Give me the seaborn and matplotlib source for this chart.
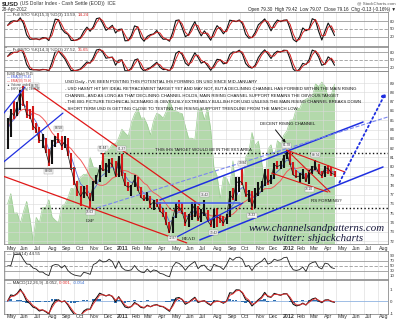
import numpy as np
import pandas as pd
import matplotlib
matplotlib.use("Agg")
import matplotlib.pyplot as plt
import matplotlib.dates as mdates
import seaborn as sns

# ---------------------------------------------------------------- data
weeks = pd.date_range("2010-05-07", "2012-04-27", freq="W-FRI")

usd_close = [84.0, 85.9, 85.5, 86.6, 88.2, 86.9, 85.6, 85.5, 84.4, 84.0, 82.8, 82.8, 81.6,
             80.4, 82.6, 83.0, 82.9, 82.2, 82.7, 81.3, 79.8, 78.4, 77.5, 76.8, 77.4, 77.0,
             76.3, 78.2, 78.7, 80.0, 79.6, 79.7, 80.5, 80.2, 79.0,
             81.0, 79.1, 78.0, 77.8, 77.9, 78.7, 77.6, 76.7, 76.4, 76.9, 75.9, 76.2, 76.0,
             75.2, 74.9, 73.9, 72.9, 74.5, 75.8, 75.6, 75.1, 73.9, 74.7, 75.3, 75.9, 74.3,
             75.0, 75.1, 74.2, 73.7, 74.9, 74.6, 74.4, 73.9, 74.6, 77.0, 76.6, 78.2, 78.5,
             78.2, 76.9, 77.1, 75.7, 76.8, 77.4, 78.0, 79.5, 78.3, 78.7, 80.2, 80.0, 80.2,
             81.1, 81.4, 80.3, 79.1, 78.9, 79.0, 79.3, 78.4, 79.5, 79.9, 80.1, 79.3, 79.0,
             79.9, 79.8, 79.3, 79.16]
usd_high = [85.2, 86.2, 87.1, 87.0, 88.3, 88.70, 87.1, 86.2, 86.5, 84.7, 84.3, 83.5, 83.1,
            81.9, 82.9, 83.3, 83.58, 83.3, 83.3, 83.1, 81.5, 80.0, 78.5, 77.9, 77.9, 78.0,
            77.2, 78.5, 79.1, 80.2, 81.44, 80.4, 80.8, 80.9, 80.6,
            81.2, 81.37, 79.3, 78.3, 78.0, 79.1, 78.9, 77.8, 77.0, 77.3, 76.9, 76.4, 76.5,
            76.2, 75.6, 75.1, 74.1, 74.6, 76.1, 76.4, 76.1, 75.1, 74.9, 76.2, 76.2, 75.8,
            75.4, 76.42, 75.3, 74.4, 75.5, 75.6, 74.8, 74.7, 74.9, 77.4, 77.7, 78.9, 78.9,
            79.84, 78.4, 77.5, 77.4, 77.7, 78.3, 78.5, 79.7, 79.7, 79.1, 80.4, 80.6, 80.6,
            81.3, 81.78, 81.6, 80.5, 79.6, 79.3, 79.7, 79.3, 79.6, 80.1, 80.74, 80.3, 79.5,
            80.1, 80.2, 80.0, 79.5]
usd_low = [81.9, 83.2, 85.1, 85.5, 86.1, 86.5, 85.2, 85.1, 84.0, 83.6, 82.6, 82.0, 81.5,
           80.08, 80.3, 82.1, 82.6, 81.8, 82.0, 81.1, 79.6, 78.0, 76.9, 75.8, 76.6, 76.9,
           75.63, 76.3, 78.1, 78.3, 79.5, 78.9, 79.3, 80.0, 78.9,
           78.9, 79.0, 77.9, 77.4, 76.9, 77.8, 77.4, 76.6, 76.3, 76.3, 75.6, 75.3, 75.7,
           75.1, 74.6, 73.7, 72.9, 72.87, 74.5, 75.2, 74.9, 73.6, 73.5, 74.3, 74.6, 74.2,
           74.1, 74.7, 74.0, 73.5, 73.42, 73.5, 73.9, 73.6, 73.8, 74.6, 76.4, 76.3, 77.3,
           78.0, 76.7, 76.2, 75.33, 75.6, 76.8, 77.3, 77.9, 78.0, 78.1, 78.7, 79.7, 79.8,
           79.9, 80.8, 80.2, 79.1, 78.8, 78.2, 78.7, 78.3, 78.10, 79.2, 79.6, 79.2, 78.8,
           78.9, 79.2, 79.0, 78.9]
spx_close = [1111, 1136, 1088, 1089, 1064, 1092, 1117, 1076, 1022, 1078, 1065, 1102, 1102,
             1121, 1079, 1071, 1065, 1105, 1110, 1126, 1149, 1147, 1166, 1176, 1183, 1183,
             1225, 1200, 1199, 1190, 1225, 1240, 1244, 1257, 1258,
             1272, 1293, 1284, 1276, 1310, 1330, 1343, 1320, 1321, 1304, 1279, 1314, 1332,
             1328, 1320, 1337, 1364, 1340, 1338, 1333, 1331, 1300, 1271, 1271, 1268, 1340,
             1344, 1316, 1345, 1292, 1199, 1179, 1124, 1177, 1174, 1154, 1216, 1136, 1131,
             1155, 1225, 1238, 1285, 1253, 1264, 1216, 1159, 1244, 1255, 1219, 1265, 1258,
             1278, 1289, 1315, 1316, 1345, 1343, 1361, 1366, 1370, 1371, 1404, 1397, 1408,
             1398, 1370, 1378, 1403]

month_starts = pd.date_range("2010-05-01", "2012-08-01", freq="MS")
x_start, x_end = pd.Timestamp("2010-04-29"), pd.Timestamp("2012-08-23")

# swing points that carry a value tag: (week, which side, tag shift in days)
swing_tags = [("2010-06-11", "high", 24), ("2010-08-06", "low", 0), ("2010-08-27", "high", 0),
              ("2010-11-05", "low", 0), ("2010-12-03", "high", 0), ("2011-01-14", "high", 0),
              ("2011-05-06", "low", 0), ("2011-07-15", "high", 0), ("2011-08-05", "low", 0),
              ("2011-10-07", "high", 0), ("2011-10-28", "low", 0), ("2012-01-13", "high", 0),
              ("2012-03-16", "high", 0), ("2012-03-02", "low", 0)]

# trendlines: (start date, start level, end date, end level, colour, style, width)
trendlines = [
    ("2010-04-20", 85.24, "2010-06-14", 88.57, "#1f2fe0", "-", 0.9),
    ("2010-04-20", 80.18, "2010-09-06", 85.77, "#1f2fe0", "-", 0.9),
    ("2010-04-20", 79.86, "2010-10-02", 79.86, "#555555", "-", 0.8),
    ("2010-06-25", 88.78, "2011-07-05", 75.88, "#e01818", "-", 0.9),
    ("2010-04-20", 79.11, "2011-06-06", 71.80, "#e01818", "-", 0.9),
    ("2010-11-26", 81.47, "2012-08-23", 81.47, "#111111", ":", 1.0),
    ("2010-07-17", 75.56, "2012-08-23", 75.56, "#111111", ":", 1.0),
    ("2011-04-08", 76.42, "2012-06-29", 84.81, "#1f2fe0", "-", 1.1),
    ("2011-07-05", 72.12, "2012-08-12", 79.97, "#1f2fe0", "-", 1.1),
    ("2010-11-20", 75.56, "2012-09-19", 85.77, "#7a86f0", "--", 0.8),
    ("2011-04-01", 76.10, "2011-10-01", 76.10, "#4a64f0", "-", 1.2),
    ("2011-05-15", 72.44, "2011-10-08", 76.10, "#1f2fe0", "-", 0.9),
    ("2012-01-13", 81.78, "2012-05-20", 79.43, "#e01818", "-", 0.8),
    ("2012-01-13", 81.78, "2012-04-17", 77.28, "#e01818", "-", 0.8),
    ("2011-12-10", 79.32, "2012-04-12", 77.28, "#e01818", "-", 0.8),
]
arrow_path = ("2012-05-05", 78.03, "2012-08-21", 88.25)

notes = [
    "USD Daily - I'VE BEEN POSTING THIS POTENTIAL IHS FORMING ON USD SINCE MID-JANUARY",
    "- USD HASN'T HIT MY IDEAL RETRACEMENT TARGET YET AND MAY NOT, BUT A DECLINING CHANNEL HAS FORMED WITHIN THE MAIN RISING",
    "CHANNEL, AND AS LONG AS THAT DECLINING CHANNEL HOLDS, MAIN RISING CHANNEL SUPPORT REMAINS THE OBVIOUS TARGET",
    "- THE BIG PICTURE TECHNICAL SCENARIO IS OBVIOUSLY EXTREMELY BULLISH FOR USD UNLESS THE MAIN RISING CHANNEL BREAKS DOWN",
    "- SHORT TERM USD IS GETTING CLOSE TO TESTING THE RISING SUPPORT TRENDLINE FROM THE MARCH LOW",
]

# ---------------------------------------------------------------- indicators
df = pd.DataFrame({"date": weeks, "close": usd_close, "high": usd_high,
                   "low": usd_low, "spx": spx_close})
df["ema20"] = df["close"].ewm(span=4, adjust=False).mean()
df["ma50"] = df["close"].rolling(10, min_periods=1).mean()


def stoch(d, look):
    lo = d["low"].rolling(look, min_periods=1).min()
    hi = d["high"].rolling(look, min_periods=1).max()
    k = 100 * (d["close"] - lo) / (hi - lo)
    k = k.rolling(2, min_periods=1).mean()
    return k, k.rolling(2, min_periods=1).mean()


df["k1"], df["d1"] = stoch(df, 3)
df["k2"], df["d2"] = stoch(df, 4)

delta = df["close"].diff()
gain = delta.clip(lower=0).ewm(alpha=1 / 4, adjust=False).mean()
loss = (-delta.clip(upper=0)).ewm(alpha=1 / 4, adjust=False).mean()
df["rsi"] = 100 - 100 / (1 + gain / loss.replace(0, np.nan))
df["rsi"] = df["rsi"].fillna(50)

ema_f = df["close"].ewm(span=2.4, adjust=False).mean()
ema_s = df["close"].ewm(span=5.2, adjust=False).mean()
df["macd"] = ema_f - ema_s
df["signal"] = df["macd"].ewm(span=1.8, adjust=False).mean()
df["hist"] = df["macd"] - df["signal"]

# ---------------------------------------------------------------- figure
sns.set_theme(style="white")
plt.rcParams["font.family"] = ["Liberation Sans", "DejaVu Sans"]
W, H = 400, 323
fig = plt.figure(figsize=(W / 100, H / 100), dpi=100)
fig.patch.set_facecolor("white")


def panel(top, bottom, left=4, right=388):
    return fig.add_axes([left / W, 1 - bottom / H, (right - left) / W, (bottom - top) / H])


GRID = "#d9d9d9"
FRAME = "#8c8c8c"
TICK_FS = 3.2


def style(ax, yticks, ylim):
    ax.set_xlim(x_start, x_end)
    ax.set_ylim(*ylim)
    for s in ax.spines.values():
        s.set_color(FRAME)
        s.set_linewidth(0.6)
    ax.set_xticks(month_starts)
    ax.xaxis.set_major_formatter(mdates.DateFormatter(""))
    ax.grid(False)
    ax.yaxis.tick_right()
    ax.set_yticks(yticks)
    ax.set_yticklabels([str(t) for t in yticks], fontsize=TICK_FS, color="#333333")
    ax.tick_params(axis="both", length=0, pad=1.5)
    ax.set_xlabel("")
    ax.set_ylabel("")


def month_grid(ax):
    for m in month_starts:
        ax.axvline(m, color=GRID, lw=0.4, zorder=0)


def month_labels(ax):
    for m in month_starts:
        bold = m.month == 1
        ax.text(m + pd.Timedelta(days=3), -0.012, str(m.year) if bold else m.strftime("%b"),
                transform=ax.get_xaxis_transform(), fontsize=3.8,
                fontweight="bold" if bold else "normal", ha="left", va="top", color="#333333")


# header
fig.text(2 / W, 1 - 1 / H, "$USD", fontsize=4.6, fontweight="bold", va="top", ha="left")
fig.text(20 / W, 1 - 1.5 / H, "(US Dollar Index - Cash Settle (EOD))  ICE", fontsize=3.6,
         va="top", ha="left", color="#333333")
fig.text(2 / W, 1 - 7 / H, "28-Apr-2012", fontsize=3.3, va="top", ha="left", color="#333333")
fig.text(396 / W, 1 - 1 / H, "@ StockCharts.com", fontsize=3.2, va="top", ha="right", color="#555555")
fig.text(396 / W, 1 - 7 / H,
         "Open 79.30  High 79.42  Low 79.07  Close 79.16  Chg -0.13 (-0.16%) \u25bc",
         fontsize=3.3, va="top", ha="right", color="#222222")

# stochastic panels
for (top, bot, kcol, dcol, lab, ylim) in [
        (12, 46, "k1", "d1", ("Full STO %K(15,3) %D(3) 13.59, ", "14.24"), (-14, 114)),
        (47, 71, "k2", "d2", ("Full STO %K(14,3) %D(3) 27.52, ", "35.65"), (5, 101))]:
    ax = panel(top, bot)
    month_grid(ax)
    for lvl, ls in [(80, "-"), (50, (0, (4, 2))), (20, "-")]:
        ax.axhline(lvl, color="#9a9a9a", lw=0.6, ls=ls, zorder=1)
    sns.lineplot(data=df, x="date", y=kcol, ax=ax, color="#111111", lw=0.8, zorder=3)
    sns.lineplot(data=df, x="date", y=dcol, ax=ax, color="#d42020", lw=0.7, zorder=4)
    t = ax.text(0.008, 0.97, "\u2014 " + lab[0], transform=ax.transAxes, fontsize=3.2,
                va="top", ha="left", color="#333333",
                bbox=dict(fc="white", ec="none", pad=0.3, alpha=0.7))
    ax.annotate(lab[1], xycoords=t, xy=(1, 0), va="bottom", ha="left", fontsize=3.2, color="#d42020")
    style(ax, [20, 50, 80], ylim)

# main price panel
ax = panel(71, 244)
ax2 = ax.twinx()
ax2.set_ylim(1013, 1435)
ax2.fill_between(df["date"], 1013, df["spx"], color="#b3d9ab", lw=0, zorder=0)
ax2.plot(df["date"], df["spx"], color="#9ccc93", lw=0.5)
ax2.set_yticks([])
ax2.set_zorder(0)
ax.set_zorder(1)
ax.patch.set_alpha(0)
for s in ax2.spines.values():
    s.set_visible(False)

month_grid(ax)
for lvl in range(72, 90):
    ax.axhline(lvl, color=GRID, lw=0.4, zorder=0)

sns.lineplot(data=df, x="date", y="ma50", ax=ax, color="#f05a5a", lw=0.7, zorder=3)
sns.lineplot(data=df, x="date", y="ema20", ax=ax, color="#5a6fd8", lw=0.6, zorder=3)
up = df["close"].diff().fillna(0) >= 0
ax.vlines(df["date"][up], df["low"][up], df["high"][up], color="#111111", lw=1.5, zorder=4)
ax.vlines(df["date"][~up], df["low"][~up], df["high"][~up], color="#d41a1a", lw=1.5, zorder=4)
sns.lineplot(data=df, x="date", y="close", ax=ax, color="#111111", lw=0.5, zorder=5)

for d0, p0, d1, p1, col, ls, lw in trendlines:
    ax.plot([pd.Timestamp(d0), pd.Timestamp(d1)], [p0, p1], color=col, ls=ls, lw=lw, zorder=6)
ax.annotate("", xy=(pd.Timestamp(arrow_path[2]), arrow_path[3]),
            xytext=(pd.Timestamp(arrow_path[0]), arrow_path[1]),
            arrowprops=dict(arrowstyle="-|>", color="#1f2fe0", lw=1.3, ls=":",
                            mutation_scale=6), zorder=6)

# value tags on swing highs and lows
for day, side, shift in swing_tags:
    row = df.loc[df["date"] == pd.Timestamp(day)].iloc[0]
    val = row[side]
    off = 0.55 if side == "high" else -0.55
    if shift:
        off = 0.0
    ax.text(row["date"] + pd.Timedelta(days=shift), val + off, f"{val:.2f}", fontsize=2.3,
            color="#333333", ha="center", va="center", zorder=7,
            bbox=dict(fc="#f4f4f4", ec="#9a9a9a", lw=0.3, pad=0.4))

for i, line in enumerate(notes):
    ax.text(0.159, 1 - (10.7 + 6.7 * i) / 173, line, transform=ax.transAxes, fontsize=3.1,
            va="center", ha="left", color="#111111", zorder=8)

ax.text(pd.Timestamp("2011-03-29"), 81.85, "THIS IHS TARGET WOULD BE IN THE 88.5 AREA",
        fontsize=3.1, color="#111111", va="center", ha="left", zorder=8)
ax.text(pd.Timestamp("2011-11-15"), 84.6, "DECENT RISING CHANNEL", fontsize=3.1,
        color="#111111", va="center", ha="left", zorder=8)
ax.annotate("", xy=(pd.Timestamp("2012-01-14"), 82.35), xytext=(pd.Timestamp("2011-12-15"), 84.2),
            arrowprops=dict(arrowstyle="-|>", color="#111111", lw=0.7, mutation_scale=4), zorder=8)
ax.text(pd.Timestamp("2010-11-05"), 74.0, "LSP", fontsize=3.6, family="Liberation Serif",
        color="#111111", ha="center", zorder=8)
ax.text(pd.Timestamp("2011-06-10"), 72.1, "HEAD", fontsize=3.6, family="Liberation Serif",
        color="#111111", ha="center", zorder=8)
ax.text(pd.Timestamp("2012-04-08"), 76.2, "RS FORMING?", fontsize=3.2,
        color="#111111", ha="center", zorder=8)

ax.text(0.993, 0.092, "www.channelsandpatterns.com", transform=ax.transAxes, fontsize=7.8,
        family="Liberation Serif", style="italic", color="#15153a", ha="right", va="center", zorder=8)
ax.text(0.935, 0.032, "twitter: shjackcharts", transform=ax.transAxes, fontsize=7.8,
        family="Liberation Serif", style="italic", color="#15153a", ha="right", va="center", zorder=8)

legend_rows = [("$USD (Daily) 79.15", "#222222"), ("\u2014 EMA(20) 79.45", "#3a52d0"),
               ("\u2014 EMA(50) 79.40", "#e03030"), ("\u25b2 Volume undef", "#444444"),
               ("\u2014 $SPX (Daily) 1403.36", "#444444")]
for i, (txt, col) in enumerate(legend_rows):
    ax.text(0.008, 0.996 - i * 0.0215, txt, transform=ax.transAxes, fontsize=2.2, color=col,
            va="top", ha="left", zorder=8)
style(ax, list(range(72, 90)), (71.68, 90.3))
month_labels(ax)

# RSI panel
ax = panel(251, 279)
month_grid(ax)
for lvl, ls in [(70, "-"), (50, (0, (4, 2))), (30, "-")]:
    ax.axhline(lvl, color="#9a9a9a", lw=0.6, ls=ls, zorder=1)
sns.lineplot(data=df, x="date", y="rsi", ax=ax, color="#222222", lw=0.6)
ax.text(0.008, 0.97, "\u2014 RSI(14) 44.55", transform=ax.transAxes, fontsize=3.2,
        va="top", ha="left", color="#333333")
style(ax, [10, 30, 50, 70, 90], (-2, 108))

# MACD panel
ax = panel(280, 314)
month_grid(ax)
ax.bar(df["date"], df["hist"], width=6, color="#2e6fb0", lw=0, zorder=2)
ax.axhline(0, color="#8fb3e0", lw=0.6, zorder=1)
sns.lineplot(data=df, x="date", y="macd", ax=ax, color="#111111", lw=0.8, zorder=3)
sns.lineplot(data=df, x="date", y="signal", ax=ax, color="#e03030", lw=0.7, zorder=4)
t = ax.text(0.008, 0.97, "\u2014 MACD(12,26,9) -0.052, ", transform=ax.transAxes, fontsize=3.2,
            va="top", ha="left", color="#333333")
t2 = ax.annotate("0.001, ", xycoords=t, xy=(1, 0), va="bottom", ha="left", fontsize=3.2, color="#e03030")
ax.annotate("-0.054", xycoords=t2, xy=(1, 0), va="bottom", ha="left", fontsize=3.2, color="#3a6fd0")
style(ax, [-1, 0, 1], (-1.08, 1.75))
month_labels(ax)

fig.savefig("out.png", dpi=100, facecolor="white")
